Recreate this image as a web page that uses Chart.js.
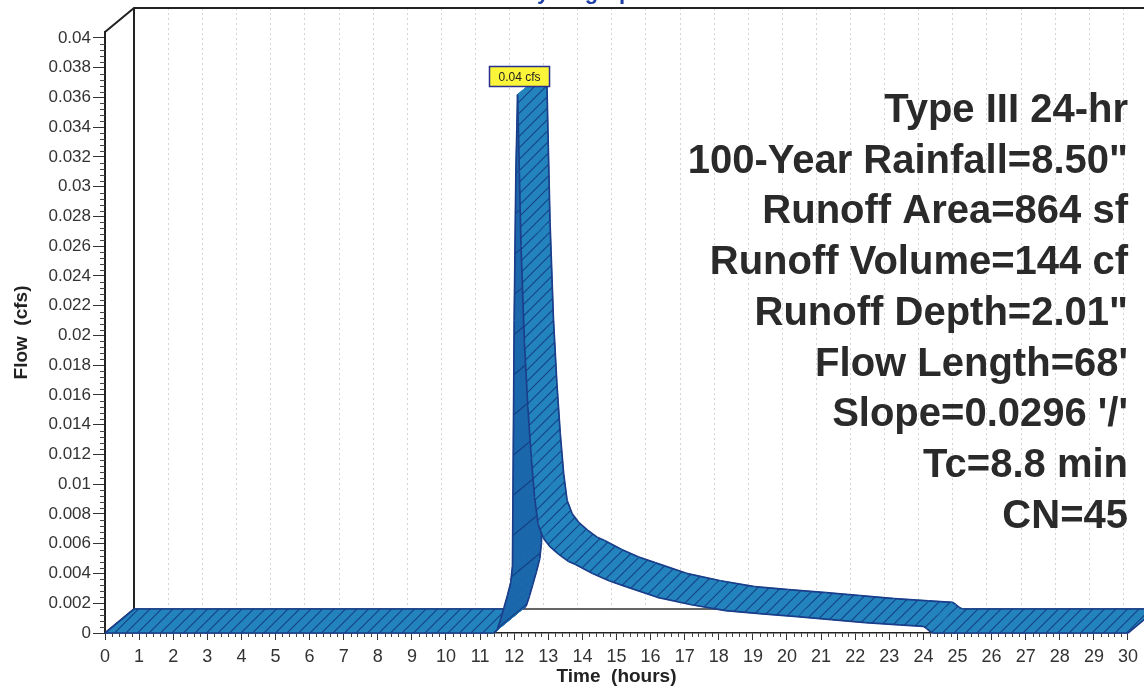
<!DOCTYPE html>
<html>
<head>
<meta charset="utf-8">
<script src="https://cdn.jsdelivr.net/npm/chart.js@4/dist/chart.umd.min.js"></script>
<style>
html,body{margin:0;padding:0;background:#fff;}
#wrap{width:1144px;height:688px;position:relative;overflow:hidden;}
canvas{display:block;}
</style>
</head>
<body>
<div id="wrap"><canvas id="c" width="1144" height="688"></canvas></div>
<script>
// ---- data ----
const timeHours = [0, 11.4, 11.5, 11.6, 11.7, 11.8, 11.9, 11.95, 12.0, 12.05, 12.1, 12.15, 12.2, 12.3, 12.4, 12.5, 12.6, 12.7, 12.85, 13.05, 13.3, 13.6, 13.8, 14.3, 14.8, 15.3, 16.2, 17.2, 18.2, 19.2, 20.3, 21.3, 22.3, 23.3, 24.0, 24.1, 24.2, 24.3, 30];
const flowCfs   = [0, 0, 0.0002, 0.0009, 0.0017, 0.0025, 0.0034, 0.0045, 0.021, 0.031, 0.0362, 0.031, 0.026, 0.0195, 0.0152, 0.0118, 0.0091, 0.0073, 0.0064, 0.0058, 0.0053, 0.0048, 0.0046, 0.0040, 0.0035, 0.0031, 0.0024, 0.0019, 0.0015, 0.0013, 0.0011, 0.0009, 0.0007, 0.00055, 0.00045, 0.0003, 0.0001, 0, 0];
const xTickValues = [0,1,2,3,4,5,6,7,8,9,10,11,12,13,14,15,16,17,18,19,20,21,22,23,24,25,26,27,28,29,30];
const yTickValues = [0,0.002,0.004,0.006,0.008,0.01,0.012,0.014,0.016,0.018,0.02,0.022,0.024,0.026,0.028,0.03,0.032,0.034,0.036,0.038,0.04];
const yTickLabels = ['0','0.002','0.004','0.006','0.008','0.01','0.012','0.014','0.016','0.018','0.02','0.022','0.024','0.026','0.028','0.03','0.032','0.034','0.036','0.038','0.04'];
const infoLines = ['Type III 24-hr','100-Year Rainfall=8.50"','Runoff Area=864 sf','Runoff Volume=144 cf','Runoff Depth=2.01"','Flow Length=68\'','Slope=0.0296 \'/\'','Tc=8.8 min','CN=45'];
const peakLabel = '0.04 cfs';
const chartTitle = 'Hydrograph';

// ---- style ----
const DEPTH = {dx: 29, dy: -24};
const FONT = '"Liberation Sans", Arial, Helvetica, sans-serif';
const LIGHT = '#2384bd';
const DARK = '#1a67ab';
const EDGE = '#1b3d8a';
const HATCH = 'rgba(20,58,125,0.9)';

function hatch(ctx, poly, dark) {
  let minx=Infinity,maxx=-Infinity,miny=Infinity,maxy=-Infinity;
  poly.forEach(p=>{minx=Math.min(minx,p.x);maxx=Math.max(maxx,p.x);miny=Math.min(miny,p.y);maxy=Math.max(maxy,p.y);});
  ctx.save();
  ctx.beginPath();
  poly.forEach((p,i)=> i?ctx.lineTo(p.x,p.y):ctx.moveTo(p.x,p.y));
  ctx.closePath();
  ctx.clip();
  ctx.strokeStyle = HATCH;
  ctx.lineWidth = 1.1;
  ctx.beginPath();
  if (!dark) {
    const step = 11.5;
    const c0 = Math.floor((minx+miny)/step)*step, c1 = maxx+maxy+step;
    for (let c=c0;c<=c1;c+=step){ ctx.moveTo(c-maxy-1, maxy+1); ctx.lineTo(c-miny+1, miny-1); }
  } else {
    const a = -DEPTH.dy, b = DEPTH.dx; // a*x + b*y = c
    const step = b*40;
    const cmin = a*minx + b*miny, cmax = a*maxx + b*maxy;
    const c0 = Math.floor(cmin/step)*step;
    for (let c=c0;c<=cmax+step;c+=step){ ctx.moveTo((c-b*(miny-2))/a, miny-2); ctx.lineTo((c-b*(maxy+2))/a, maxy+2); }
  }
  ctx.stroke();
  ctx.restore();
}

const ribbonPlugin = {
  id: 'ribbon3d',
  beforeDatasetsDraw(chart) {
    const {ctx, chartArea: a, scales: {x}} = chart;
    const {dx, dy} = DEPTH;
    ctx.save();
    // back wall grid lines
    ctx.strokeStyle = '#d4d4d4'; ctx.lineWidth = 1; ctx.setLineDash([2,3]);
    xTickValues.forEach(v => {
      if (v === xTickValues[0]) return;
      const px = Math.round(x.getPixelForValue(v) + dx) + 0.5;
      ctx.beginPath(); ctx.moveTo(px, a.top + dy); ctx.lineTo(px, a.bottom + dy); ctx.stroke();
    });
    ctx.setLineDash([]);
    // frame
    ctx.strokeStyle = '#222'; ctx.lineWidth = 2;
    ctx.beginPath();
    ctx.moveTo(a.left, a.top); ctx.lineTo(a.left+dx, a.top+dy); ctx.lineTo(chart.width+5, a.top+dy);
    ctx.moveTo(a.left+dx, a.top+dy); ctx.lineTo(a.left+dx, a.bottom+dy);
    ctx.stroke();
    ctx.strokeStyle = '#333'; ctx.lineWidth = 1.5;
    ctx.beginPath(); ctx.moveTo(a.left+dx, a.bottom+dy); ctx.lineTo(chart.width+5, a.bottom+dy);
    ctx.moveTo(a.left, a.bottom); ctx.lineTo(a.left+dx, a.bottom+dy);
    ctx.stroke();
    ctx.restore();
  },
  afterDatasetsDraw(chart) {
    const {ctx} = chart;
    const {dx, dy} = DEPTH;
    const pts = chart.getDatasetMeta(0).data.map(p => ({x: p.x, y: p.y}));
    ctx.save();
    ctx.lineJoin = 'round';
    for (let i = 0; i < pts.length - 1; i++) {
      const f0 = pts[i], f1 = pts[i+1];
      const b0 = {x: f0.x+dx, y: f0.y+dy}, b1 = {x: f1.x+dx, y: f1.y+dy};
      const poly = [f0, f1, b1, b0];
      const dark = (f1.y - f0.y) < -2 * (f1.x - f0.x);
      ctx.beginPath();
      poly.forEach((p,k)=> k?ctx.lineTo(p.x,p.y):ctx.moveTo(p.x,p.y));
      ctx.closePath();
      ctx.fillStyle = dark ? DARK : LIGHT;
      ctx.strokeStyle = dark ? DARK : LIGHT;
      ctx.lineWidth = 1;
      ctx.fill(); ctx.stroke();
      hatch(ctx, poly, dark);
      ctx.strokeStyle = EDGE; ctx.lineWidth = 1.7;
      ctx.beginPath();
      ctx.moveTo(f0.x, f0.y); ctx.lineTo(f1.x, f1.y);
      ctx.moveTo(b0.x, b0.y); ctx.lineTo(b1.x, b1.y);
      ctx.stroke();
    }
    // end caps
    const s = pts[0], e = pts[pts.length-1];
    ctx.strokeStyle = EDGE; ctx.lineWidth = 1.7;
    ctx.beginPath();
    ctx.moveTo(s.x, s.y); ctx.lineTo(s.x+dx, s.y+dy);
    ctx.moveTo(e.x, e.y); ctx.lineTo(e.x+dx, e.y+dy);
    ctx.stroke();
    ctx.restore();
  },
  afterDraw(chart) {
    const {ctx, chartArea: a, scales: {x, y}} = chart;
    ctx.save();
    // minor ticks
    ctx.strokeStyle = '#444'; ctx.lineWidth = 1;
    ctx.beginPath();
    for (let k = 0; k <= 150; k++) {
      if (k % 5 === 0) continue;
      const px = Math.round(x.getPixelForValue(k * 0.2)) + 0.5;
      ctx.moveTo(px, a.bottom); ctx.lineTo(px, a.bottom + 4);
    }
    for (let k = 0; k <= 100; k++) {
      if (k % 5 === 0) continue;
      const py = Math.round(y.getPixelForValue(k * 0.0004)) + 0.5;
      ctx.moveTo(a.left - 5, py); ctx.lineTo(a.left, py);
    }
    ctx.stroke();

    // clipped title at the top
    ctx.fillStyle = '#1f3fa8';
    ctx.font = 'bold 22px ' + FONT;
    ctx.textAlign = 'center'; ctx.textBaseline = 'alphabetic';
    ctx.fillText(chartTitle, (a.left + a.right) / 2 - 33, -1);

    // peak label
    const meta = chart.getDatasetMeta(0);
    let pi = 0; flowCfs.forEach((v,i)=>{ if (v > flowCfs[pi]) pi = i; });
    const pk = meta.data[pi];
    ctx.font = '12px ' + FONT;
    const tw = ctx.measureText(peakLabel).width;
    const bw = tw + 18, bh = 20;
    const bx = Math.round(pk.x + 1 - bw/2) + 0.5, by = Math.round(pk.y - 8 - bh) + 0.5;
    ctx.fillStyle = '#fbf53a';
    ctx.fillRect(bx, by, bw, bh);
    ctx.strokeStyle = '#2a2f8f'; ctx.lineWidth = 1.5;
    ctx.strokeRect(bx, by, bw, bh);
    ctx.fillStyle = '#222';
    ctx.textAlign = 'center'; ctx.textBaseline = 'middle';
    ctx.fillText(peakLabel, bx + bw/2, by + bh/2 + 1);

    // info block
    ctx.font = 'bold 40px ' + FONT;
    ctx.fillStyle = '#2a2a2a';
    ctx.textAlign = 'right'; ctx.textBaseline = 'middle';
    infoLines.forEach((t, i) => ctx.fillText(t, a.right, a.top + 79 + i * 50.7));
    ctx.restore();
  }
};

const canvas = document.getElementById('c');
new Chart(canvas, {
  type: 'line',
  data: {
    datasets: [{
      label: 'Runoff',
      data: timeHours.map((t, i) => ({x: t, y: flowCfs[i]})),
      showLine: false, pointRadius: 0, borderWidth: 0, fill: false
    }]
  },
  options: {
    responsive: false, animation: false, devicePixelRatio: 1,
    layout: {padding: {left: 0, right: 16, top: 32, bottom: 0}},
    plugins: {legend: {display: false}, tooltip: {enabled: false}, title: {display: false}},
    scales: {
      x: {
        type: 'linear', min: 0, max: 30,
        afterBuildTicks: s => { s.ticks = xTickValues.map(v => ({value: v})); },
        afterFit: s => { s.height = 55; },
        ticks: {autoSkip: false, maxRotation: 0, padding: 6, color: '#333',
                font: {family: FONT, size: 18}, callback: v => String(v)},
        grid: {drawOnChartArea: false, drawTicks: true, tickLength: 7, color: '#333', lineWidth: 1},
        border: {display: true, color: '#222', width: 1.5},
        title: {display: true, text: 'Time  (hours)', color: '#222',
                font: {family: FONT, size: 19, weight: 'bold'}, padding: {top: 0, bottom: 0}}
      },
      y: {
        type: 'linear', min: 0, max: 0.0404,
        afterBuildTicks: s => { s.ticks = yTickValues.map(v => ({value: v})); },
        afterFit: s => { s.width = 105; },
        ticks: {autoSkip: false, padding: 2, color: '#333',
                font: {family: FONT, size: 17}, callback: (v, i) => yTickLabels[i]},
        grid: {drawOnChartArea: false, drawTicks: true, tickLength: 12, color: '#333', lineWidth: 1},
        border: {display: true, color: '#222', width: 2},
        title: {display: true, text: 'Flow  (cfs)', color: '#222',
                font: {family: FONT, size: 19, weight: 'bold'}, padding: {top: 10, bottom: 0}}
      }
    }
  },
  plugins: [ribbonPlugin]
});
</script>
</body>
</html>
